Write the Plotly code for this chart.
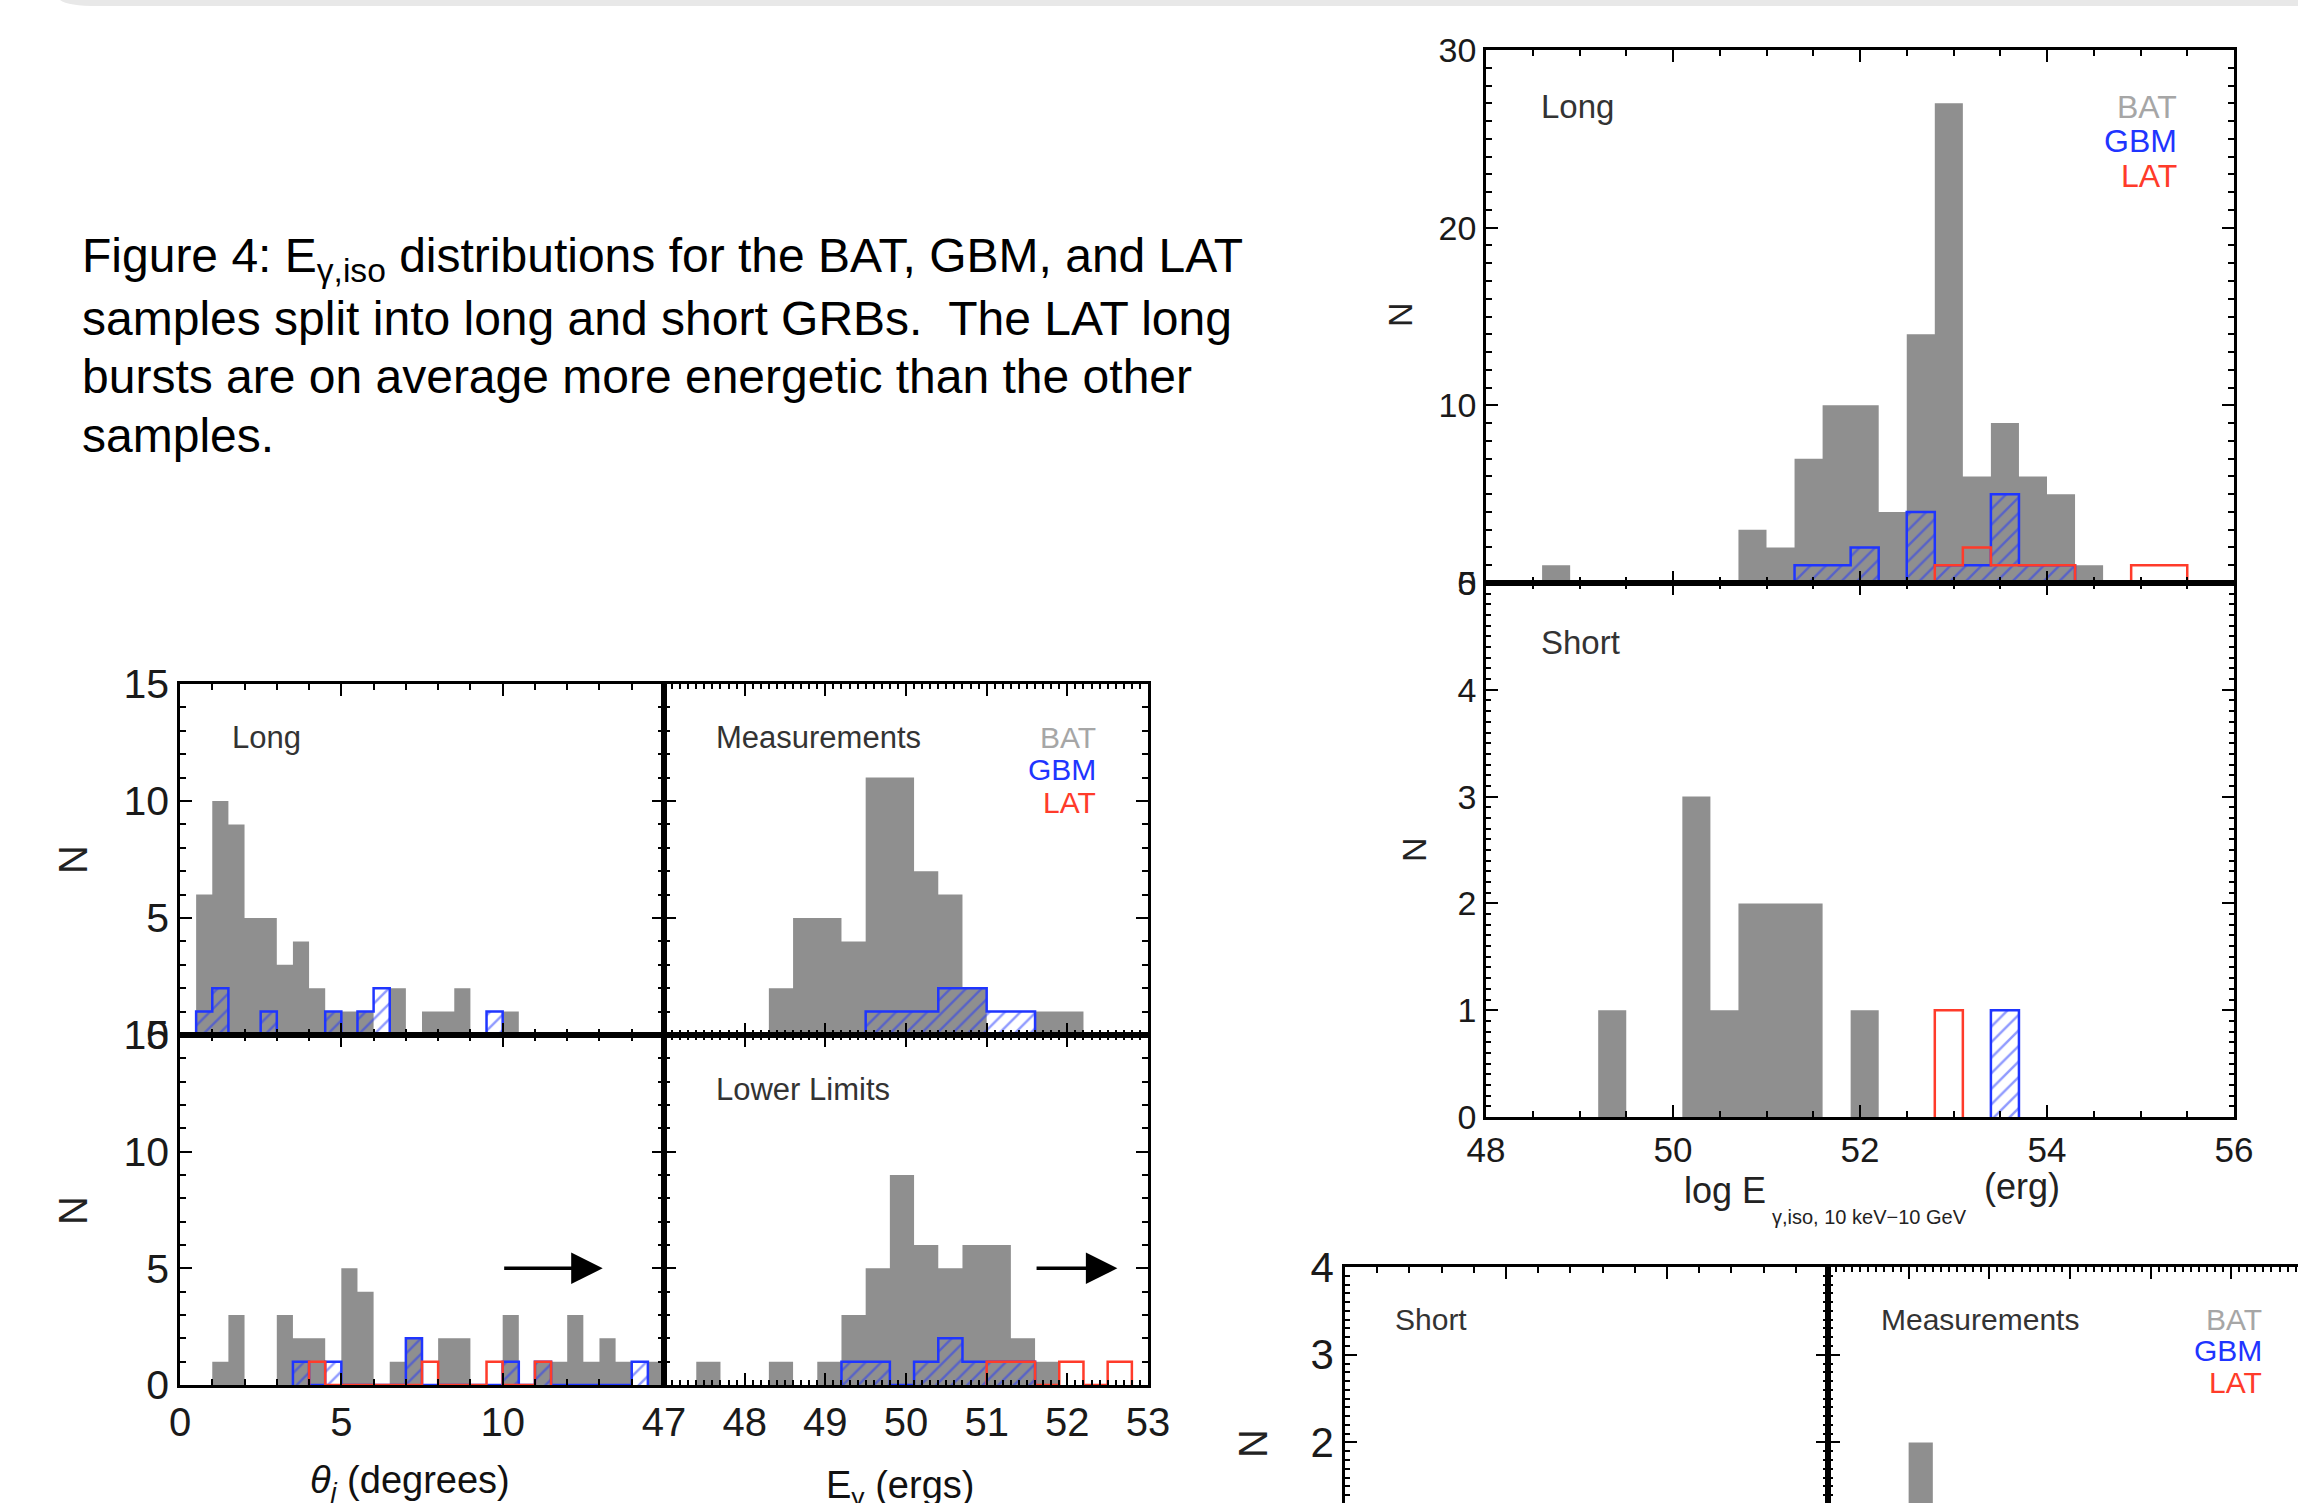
import plotly.graph_objects as go

W, H = 2298, 1503
FONT = "Liberation Sans, Arial, Helvetica, sans-serif"
GRAY = "#8f8f8f"
BLUE = "#1f35ff"
RED = "#ff3b2a"

# ---------------- data (bin left edges and counts) ----------------
# log E_gamma,iso (10 keV - 10 GeV), bin width 0.3
EISO_BW = 0.3
BAT_LONG_LEFT = [48.6, 50.7, 51.0, 51.3, 51.6, 51.9, 52.2, 52.5, 52.8, 53.1, 53.4, 53.7, 54.0, 54.3]
BAT_LONG_N = [1, 3, 2, 7, 10, 10, 4, 14, 27, 6, 9, 6, 5, 1]
GBM_LONG_LEFT = [51.3, 51.6, 51.9, 52.5, 52.8, 53.1, 53.4, 53.7, 54.0]
GBM_LONG_N = [1, 1, 2, 4, 1, 1, 5, 1, 1]
LAT_LONG_LEFT = [52.8, 53.1, 53.4, 53.7, 54.0, 54.9, 55.2]
LAT_LONG_N = [1, 2, 1, 1, 1, 1, 1]

BAT_SHORT_LEFT = [49.2, 50.1, 50.4, 50.7, 51.0, 51.3, 51.9]
BAT_SHORT_N = [1, 3, 1, 2, 2, 2, 1]
GBM_SHORT_LEFT = [53.4]
GBM_SHORT_N = [1]
LAT_SHORT_LEFT = [52.8]
LAT_SHORT_N = [1]

# theta_j (degrees), bin width 0.5
TJ_BW = 0.5
BAT_TJ_MEAS_LEFT = [0.5, 1.0, 1.5, 2.0, 2.5, 3.0, 3.5, 4.0, 4.5, 5.0, 5.5, 6.5, 7.5, 8.0, 8.5, 10.0]
BAT_TJ_MEAS_N = [6, 10, 9, 5, 5, 3, 4, 2, 1, 1, 1, 2, 1, 1, 2, 1]
GBM_TJ_MEAS_LEFT = [0.5, 1.0, 2.5, 4.5, 5.5, 6.0, 9.5]
GBM_TJ_MEAS_N = [1, 2, 1, 1, 1, 2, 1]

BAT_TJ_LL_LEFT = [1.0, 1.5, 3.0, 3.5, 4.0, 5.0, 5.5, 6.5, 7.0, 8.0, 8.5, 10.0, 11.0, 11.5, 12.0, 12.5, 13.0, 13.5, 14.5]
BAT_TJ_LL_N = [1, 3, 3, 2, 2, 5, 4, 1, 2, 2, 2, 3, 1, 1, 3, 1, 2, 1, 1]
GBM_TJ_LL_LEFT = [3.5, 4.5, 7.0, 10.0, 11.0, 14.0]
GBM_TJ_LL_N = [1, 1, 2, 1, 1, 1]
LAT_TJ_LL_LEFT = [4.0, 7.5, 9.5, 11.0]
LAT_TJ_LL_N = [1, 1, 1, 1]

# E_gamma (ergs), bin width 0.3
EG_BW = 0.3
BAT_EG_MEAS_LEFT = [48.3, 48.6, 48.9, 49.2, 49.5, 49.8, 50.1, 50.4, 50.7, 51.6, 51.9]
BAT_EG_MEAS_N = [2, 5, 5, 4, 11, 11, 7, 6, 2, 1, 1]
GBM_EG_MEAS_LEFT = [49.5, 49.8, 50.1, 50.4, 50.7, 51.0, 51.3]
GBM_EG_MEAS_N = [1, 1, 1, 2, 2, 1, 1]

BAT_EG_LL_LEFT = [47.4, 48.3, 48.9, 49.2, 49.5, 49.8, 50.1, 50.4, 50.7, 51.0, 51.3, 51.6]
BAT_EG_LL_N = [1, 1, 1, 3, 5, 9, 6, 5, 6, 6, 2, 1]
GBM_EG_LL_LEFT = [49.2, 49.5, 50.1, 50.4, 50.7, 51.0, 51.3]
GBM_EG_LL_N = [1, 1, 1, 2, 1, 1, 1]
LAT_EG_LL_LEFT = [51.0, 51.3, 51.9, 52.5]
LAT_EG_LL_N = [1, 1, 1, 1]

# short sample, E_gamma measurements (partly visible panel)
BAT_EG_SHORT_LEFT = [48.0]
BAT_EG_SHORT_N = [2]

# lower-limit arrows: (start, end) in data units at N = 5
ARROW_TJ = [10.0, 13.1]
ARROW_EG = [51.6, 52.62]
ARROW_N = 5

# ---------------- helpers ----------------
def fx(p):
    return p / W

def fy(p):
    return 1 - p / H


def step_path(lefts, counts, width):
    pairs = sorted(zip(lefts, counts))
    start = pairs[0][0]
    xs, ys = [start], [0]
    cur = start
    for l, c in pairs:
        if l > cur + 1e-9:
            xs += [cur, l]
            ys += [0, 0]
        xs += [l, l + width]
        ys += [c, c]
        cur = l + width
    xs.append(cur)
    ys.append(0)
    return xs, ys


fig = go.Figure()


def refs(ax):
    return ("x", "y") if ax == 1 else (f"x{ax}", f"y{ax}")


def add_hist(ax, lefts, counts, width, kind):
    xs, ys = step_path(lefts, counts, width)
    xa, ya = refs(ax)
    if kind == "bat":
        fig.add_trace(go.Scatter(x=xs, y=ys, xaxis=xa, yaxis=ya, mode="lines",
                                 fill="toself", fillcolor=GRAY,
                                 line=dict(width=0, color="rgba(0,0,0,0)"),
                                 hoverinfo="skip"))
    elif kind == "gbm":
        fig.add_trace(go.Scatter(x=xs, y=ys, xaxis=xa, yaxis=ya, mode="lines",
                                 fill="toself", fillcolor="rgba(0,0,0,0)",
                                 fillpattern=dict(shape="/", fgcolor=BLUE, bgcolor="rgba(0,0,0,0)",
                                                  size=11, solidity=0.22),
                                 line=dict(width=2.5, color=BLUE), hoverinfo="skip"))
    else:
        fig.add_trace(go.Scatter(x=xs, y=ys, xaxis=xa, yaxis=ya, mode="lines",
                                 line=dict(width=2.5, color=RED), hoverinfo="skip"))


# panel A: long, log E_iso
add_hist(1, BAT_LONG_LEFT, BAT_LONG_N, EISO_BW, "bat")
add_hist(1, GBM_LONG_LEFT, GBM_LONG_N, EISO_BW, "gbm")
add_hist(1, LAT_LONG_LEFT, LAT_LONG_N, EISO_BW, "lat")
# panel B: short, log E_iso
add_hist(2, BAT_SHORT_LEFT, BAT_SHORT_N, EISO_BW, "bat")
add_hist(2, LAT_SHORT_LEFT, LAT_SHORT_N, EISO_BW, "lat")
add_hist(2, GBM_SHORT_LEFT, GBM_SHORT_N, EISO_BW, "gbm")
# panel C: theta_j measurements
add_hist(3, BAT_TJ_MEAS_LEFT, BAT_TJ_MEAS_N, TJ_BW, "bat")
add_hist(3, GBM_TJ_MEAS_LEFT, GBM_TJ_MEAS_N, TJ_BW, "gbm")
# panel D: E_gamma measurements
add_hist(4, BAT_EG_MEAS_LEFT, BAT_EG_MEAS_N, EG_BW, "bat")
add_hist(4, GBM_EG_MEAS_LEFT, GBM_EG_MEAS_N, EG_BW, "gbm")
# panel E: theta_j lower limits
add_hist(5, BAT_TJ_LL_LEFT, BAT_TJ_LL_N, TJ_BW, "bat")
add_hist(5, GBM_TJ_LL_LEFT, GBM_TJ_LL_N, TJ_BW, "gbm")
add_hist(5, LAT_TJ_LL_LEFT, LAT_TJ_LL_N, TJ_BW, "lat")
# panel F: E_gamma lower limits
add_hist(6, BAT_EG_LL_LEFT, BAT_EG_LL_N, EG_BW, "bat")
add_hist(6, GBM_EG_LL_LEFT, GBM_EG_LL_N, EG_BW, "gbm")
add_hist(6, LAT_EG_LL_LEFT, LAT_EG_LL_N, EG_BW, "lat")
# panel G: short theta_j (no visible data, subplot frame only)
fig.add_trace(go.Scatter(x=[None], y=[None], xaxis="x7", yaxis="y7", mode="lines",
                         hoverinfo="skip"))
# panel H: short E_gamma measurements (cut)
add_hist(8, BAT_EG_SHORT_LEFT, BAT_EG_SHORT_N, EG_BW, "bat")


def axis(dom, rng, anchor, dtick, mdtick, labels, fsize, tlen=12, mlen=6,
         mirror=True, side=None, alias=None, tick0=0):
    d = dict(domain=dom, range=rng, anchor=anchor, showline=True, linecolor="black",
             linewidth=2.5, mirror="ticks" if mirror else False, ticks="inside",
             ticklen=tlen, tickwidth=2, tickcolor="black", tickmode="linear",
             tick0=tick0, dtick=dtick, showticklabels=labels,
             tickfont=dict(family=FONT, size=fsize, color="#1a1a1a"),
             minor=dict(ticks="inside", ticklen=mlen, tickwidth=1.5, tickcolor="black",
                        dtick=mdtick, tick0=tick0),
             showgrid=False, zeroline=False, automargin=False)
    if side:
        d["side"] = side
    if alias:
        d["labelalias"] = alias
    return d


xA = [fx(1486), fx(2234)]
xL = [fx(180), fx(664)]
xR = [fx(664), fx(1148)]
xG = [fx(1345), fx(1828)]
xH = [fx(1828), fx(2298) - 0.0001]
yA = [fy(583), fy(50)]
yB = [fy(1117), fy(583)]
yT = [fy(1035), fy(684)]
yBo = [fy(1385), fy(1035)]
yG = [0, fy(1267)]

fig.update_layout(
    xaxis=axis(xA, [48, 56], "y", 2, 0.5, False, 34),
    yaxis=axis(yA, [0, 30], "x", 10, 1, True, 34),
    xaxis2=axis(xA, [48, 56], "y2", 2, 0.5, True, 35),
    yaxis2=axis(yB, [0, 5], "x2", 1, 0.1, True, 34, mlen=5),
    xaxis3=axis(xL, [0, 15], "y3", 5, 1, False, 40),
    yaxis3=axis(yT, [0, 15], "x3", 5, 1, True, 41),
    xaxis4=axis(xR, [47, 53], "y4", 1, 0.1, False, 40, mlen=5),
    yaxis4=axis(yT, [0, 15], "x4", 5, 1, False, 40),
    xaxis5=axis(xL, [0, 15], "y5", 5, 1, True, 40, alias={"15": " "}),
    yaxis5=axis(yBo, [0, 15], "x5", 5, 1, True, 41),
    xaxis6=axis(xR, [47, 53], "y6", 1, 0.1, True, 40, mlen=5),
    yaxis6=axis(yBo, [0, 15], "x6", 5, 1, False, 40),
    xaxis7=axis(xG, [0, 15], "y7", 5, 1, False, 40, mirror=False, side="top"),
    yaxis7=axis(yG, [1.31, 4], "x7", 1, 0.1, True, 42, mlen=5),
    xaxis8=axis(xH, [47, 52.826], "y8", 1, 0.1, False, 40, mlen=5, mirror=False, side="top"),
    yaxis8=axis(yG, [1.31, 4], "x8", 1, 0.1, False, 40, mlen=5, mirror=False),
)

fig.update_layout(width=W, height=H,
                  margin=dict(l=0, r=0, t=0, b=0, pad=0, autoexpand=False),
                  paper_bgcolor="white", plot_bgcolor="rgba(0,0,0,0)",
                  showlegend=False, font=dict(family=FONT))

ann = []


def text(x, y, s, size, color="#222222", xanchor="left", angle=0):
    ann.append(dict(x=fx(x), y=fy(y), xref="paper", yref="paper", text=s, showarrow=False,
                    xanchor=xanchor, yanchor="middle", textangle=angle,
                    font=dict(family=FONT, size=size, color=color)))


# caption
text(80, 259, "Figure 4: E<sub>γ,iso</sub> distributions for the BAT, GBM, and LAT", 48, "black")
text(80, 318, "samples split into long and short GRBs.  The LAT long", 48, "black")
text(80, 377, "bursts are on average more energetic than the other", 48, "black")
text(80, 435, "samples.", 48, "black")

# right panels
text(1539, 107, "Long", 33, "#333333")
text(2179, 107, "BAT", 32, "#a6a6a6", "right")
text(2179, 141, "GBM", 32, BLUE, "right")
text(2179, 176, "LAT", 32, RED, "right")
text(1539, 642, "Short", 33, "#333333")
text(1400, 315, "N", 34, "#222222", "center", -90)
text(1414, 850, "N", 34, "#222222", "center", -90)
text(1768, 1190, "log E", 36, "#222222", "right")
text(1770, 1217, "γ,iso, 10 keV−10 GeV", 20, "#222222")
text(1982, 1186, "(erg)", 36, "#222222")

# bottom-left panels
text(230, 737, "Long", 31, "#333333")
text(714, 737, "Measurements", 31, "#333333")
text(1098, 737, "BAT", 30, "#a6a6a6", "right")
text(1098, 769, "GBM", 30, BLUE, "right")
text(1098, 802, "LAT", 30, RED, "right")
text(714, 1089, "Lower Limits", 31, "#333333")
text(73, 860, "N", 40, "#222222", "center", -90)
text(73, 1211, "N", 40, "#222222", "center", -90)
text(410, 1483, "<i>θ<sub>j</sub></i> (degrees)", 38, "#111111", "center")
text(900, 1488, "E<sub>γ</sub> (ergs)", 38, "#111111", "center")

# bottom-right partial panels
text(1393, 1319, "Short", 30, "#333333")
text(1879, 1319, "Measurements", 30, "#333333")
text(2264, 1319, "BAT", 30, "#a6a6a6", "right")
text(2264, 1350, "GBM", 30, BLUE, "right")
text(2264, 1382, "LAT", 30, RED, "right")
text(1253, 1444, "N", 40, "#222222", "center", -90)

# arrows
for (a0, a1), xr, yr in [(ARROW_TJ, "x5", "y5"), (ARROW_EG, "x6", "y6")]:
    ann.append(dict(x=a1, y=ARROW_N, ax=a0, ay=ARROW_N, xref=xr, yref=yr,
                    axref=xr, ayref=yr, text="", showarrow=True, arrowhead=2, arrowsize=1.8,
                    arrowwidth=3.5, arrowcolor="black", standoff=0))

fig.update_layout(annotations=ann)

# top slide border band
fig.add_shape(type="path", xref="paper", yref="paper",
              path=f"M {fx(60)},{fy(0)} Q {fx(68)},{fy(6)} {fx(98)},{fy(6)} L 1,{fy(6)} L 1,1 Z",
              fillcolor="#e8e8e8", line=dict(width=0), layer="below")

fig.write_html("out.html")
